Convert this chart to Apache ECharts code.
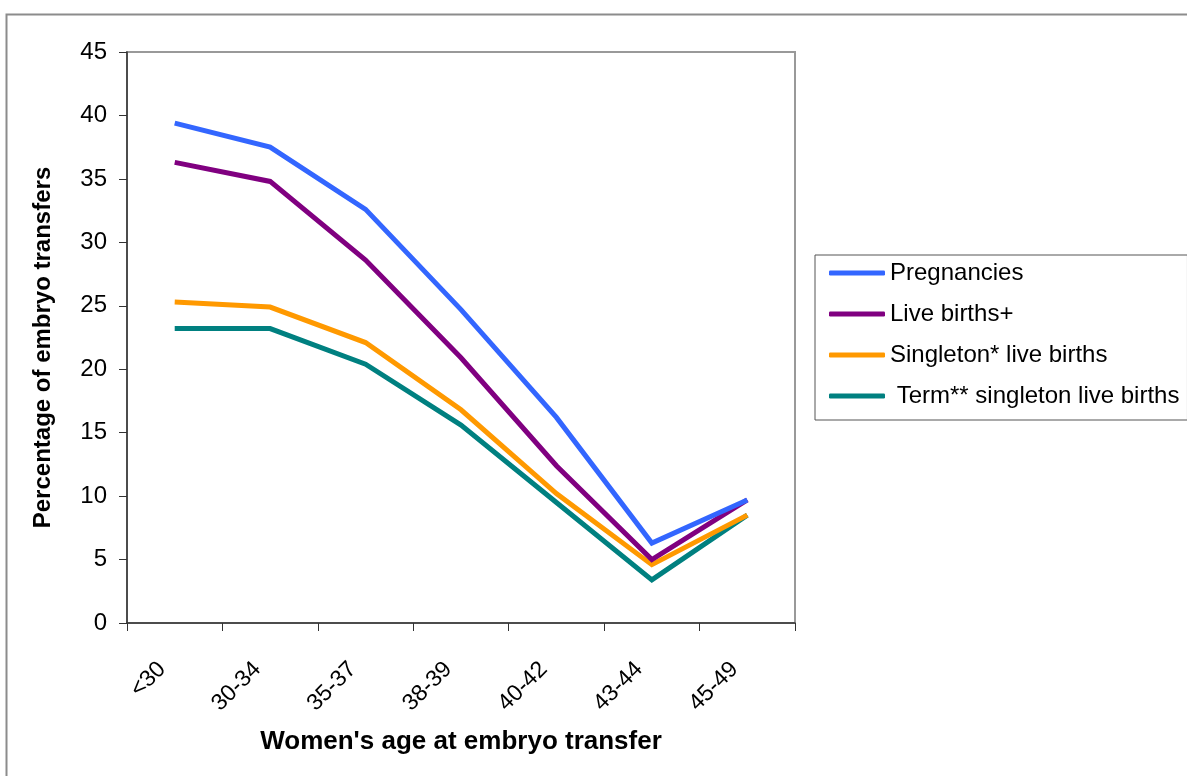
<!DOCTYPE html>
<html>
<head>
<meta charset="utf-8">
<script src="https://cdn.jsdelivr.net/npm/echarts@6/dist/echarts.min.js"></script>
<style>
  html, body { margin: 0; padding: 0; background: #fff; }
  #chart { width: 1187px; height: 776px; }
</style>
</head>
<body>
<div id="chart"></div>
<script>
// Age groups of women at embryo transfer
const ageGroups = ['<30', '30-34', '35-37', '38-39', '40-42', '43-44', '45-49'];

// Outcomes as a percentage of embryo transfers
const pregnancies = [39.4, 37.5, 32.6, 24.7, 16.2, 6.3, 9.7];
const liveBirths = [36.3, 34.8, 28.6, 20.9, 12.4, 5.0, 9.7];
const singletonLiveBirths = [25.3, 24.9, 22.1, 16.8, 10.2, 4.6, 8.5];
const termSingletonLiveBirths = [23.2, 23.2, 20.4, 15.6, 9.5, 3.4, 8.5];

const seriesNames = ['Pregnancies', 'Live births+', 'Singleton* live births', ' Term** singleton live births'];
const seriesColors = ['#3366ff', '#800080', '#ff9900', '#008080'];
const seriesData = [pregnancies, liveBirths, singletonLiveBirths, termSingletonLiveBirths];

const FONT = '"Liberation Sans", Arial, sans-serif';

const chart = echarts.init(document.getElementById('chart'), null, { renderer: 'canvas' });

chart.setOption({
  backgroundColor: '#ffffff',
  animation: false,
  textStyle: { fontFamily: FONT, color: '#000' },
  graphic: [{
    type: 'rect',
    left: 4, top: 12,
    shape: { width: 1200, height: 800 },
    style: { fill: 'none', stroke: '#8c8c8c', lineWidth: 2 },
    silent: true,
    z: -10
  }],
  grid: {
    left: 127, top: 52, right: 392, bottom: 153,
    show: true,
    borderColor: '#999999',
    borderWidth: 2,
    backgroundColor: 'transparent'
  },
  legend: {
    orient: 'vertical',
    left: 815, top: 255,
    padding: [6, 8, 12, 14],
    itemGap: 17,
    itemWidth: 56,
    itemHeight: 5,
    itemStyle: { borderWidth: 0 },
    icon: 'roundRect',
    itemTextGap: 4,
    borderColor: '#555',
    borderWidth: 1,
    textStyle: { fontSize: 24, lineHeight: 24, fontFamily: FONT, color: '#000' },
    data: seriesNames
  },
  xAxis: {
    type: 'category',
    data: ageGroups,
    boundaryGap: true,
    name: "Women's age at embryo transfer",
    nameLocation: 'middle',
    nameGap: 100,
    nameMoveOverlap: false,
    nameTextStyle: {
      fontSize: 26, fontWeight: 'bold', fontFamily: FONT, color: '#000',
      verticalAlign: 'top', padding: [6, 0, 0, 0]
    },
    axisLine: { lineStyle: { color: '#333', width: 1.5 } },
    axisTick: { show: true, length: 8, alignWithLabel: false, lineStyle: { color: '#333' } },
    axisLabel: {
      rotate: 45,
      fontSize: 23,
      margin: 30,
      padding: [0, 18, 0, 0],
      color: '#000',
      fontFamily: FONT
    },
    splitLine: { show: false }
  },
  yAxis: {
    type: 'value',
    min: 0, max: 45, interval: 5,
    name: 'Percentage of embryo transfers',
    nameLocation: 'middle',
    nameGap: 72,
    nameMoveOverlap: false,
    nameTextStyle: { fontSize: 24, fontWeight: 'bold', fontFamily: FONT, color: '#000', padding: [0, 20, 0, 0] },
    axisLine: { show: true, lineStyle: { color: '#333', width: 1.5 } },
    axisTick: { show: true, length: 8, inside: false, lineStyle: { color: '#333' } },
    axisLabel: { fontSize: 24, margin: 20, color: '#000', fontFamily: FONT },
    splitLine: { show: false }
  },
  series: seriesNames.map((name, i) => ({
    name: name,
    type: 'line',
    data: seriesData[i],
    symbol: 'none',
    color: seriesColors[i],
    lineStyle: { width: 5, color: seriesColors[i], join: 'miter' },
    itemStyle: { color: seriesColors[i] },
    z: 10 - i
  }))
});
</script>
</body>
</html>
